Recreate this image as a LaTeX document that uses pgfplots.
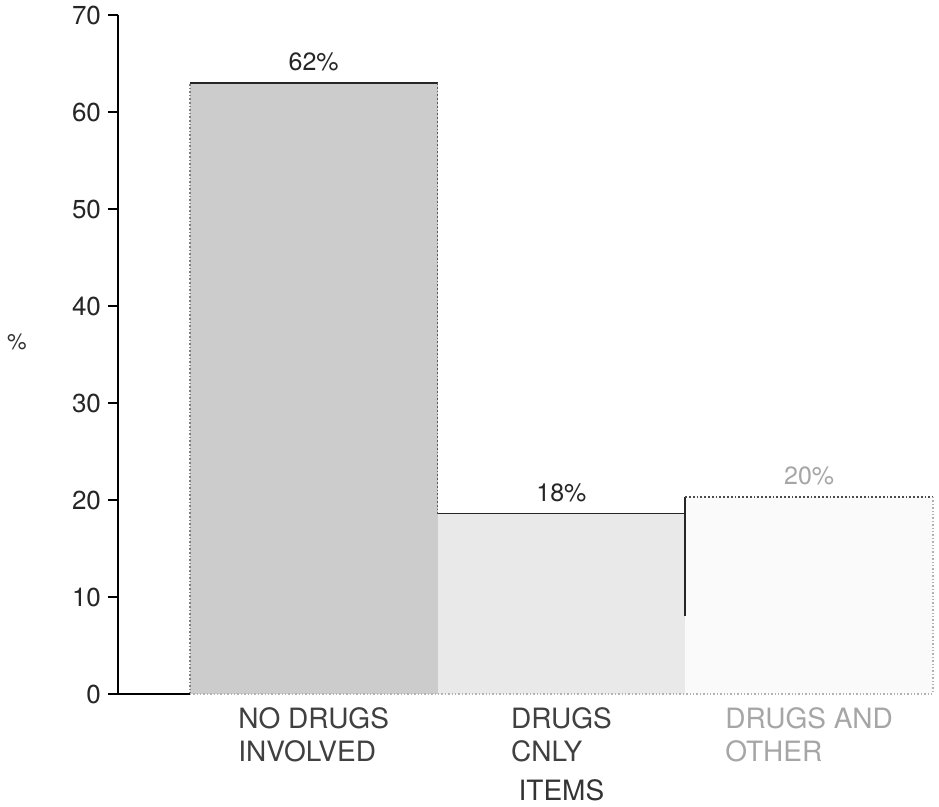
\documentclass[border=0pt]{standalone}
\usepackage{pgfplots}
\pgfplotsset{compat=1.18}
\usepackage{fontspec}
\setmainfont{TeX Gyre Heros}
\begin{document}
\begin{tikzpicture}
\begin{axis}[
  at={(0,0)}, anchor=south west,
  scale only axis, width=407.5pt, height=339.5pt,
  xmin=-0.79, xmax=2.5, ymin=0, ymax=70,
  axis x line=none,
  axis y line=left,
  axis line style={-, black, line width=0.8pt},
  ytick={0,10,...,70},
  tick align=outside, major tick length=5pt,
  tick style={black, line width=0.7pt},
  yticklabel style={font=\fontsize{13}{15}\selectfont, text=black!85},
  /pgf/number format/assume math mode=true,
  xtick=\empty,
  clip=false,
  ylabel={\%},
  ylabel style={rotate=-90, at={(rel axis cs:-0.124,0.518)}, anchor=center, font=\fontsize{11}{13}\selectfont, text=black!80},
  nodes near coords style={font=\fontsize{12.5}{14}\selectfont, anchor=south, yshift=2.5pt},
]
% bar fills
\addplot[ybar, bar width=1, bar shift=0, fill=gray!40, draw=none,
  point meta=explicit symbolic, nodes near coords,
  nodes near coords style={text=black!85}] coordinates {(0,63) [62\%]};
\addplot[ybar, bar width=1, bar shift=0, fill=gray!17, draw=none,
  point meta=explicit symbolic, nodes near coords,
  nodes near coords style={text=black!85}] coordinates {(1,18.6) [18\%]};
\addplot[ybar, bar width=1, bar shift=0, fill=gray!4, draw=none,
  point meta=explicit symbolic, nodes near coords,
  nodes near coords style={text=black!35}] coordinates {(2,20.3) [20\%]};
% bar outlines
\addplot[black!50, densely dotted, line width=0.8pt] coordinates {(-0.5,0) (-0.5,63)};
\addplot[black!85, line width=1pt] coordinates {(-0.5,63) (0.5,63)};
\addplot[black!65, densely dotted, line width=0.9pt] coordinates {(0.5,63) (0.5,18.6)};
\addplot[black!85, line width=0.9pt] coordinates {(0.5,18.6) (1.5,18.6)};
\addplot[black!85, line width=0.9pt] coordinates {(1.5,8) (1.5,20.3)};
\addplot[black!70, densely dotted, line width=0.9pt] coordinates {(1.5,20.3) (2.5,20.3)};
\addplot[black!30, densely dotted, line width=0.7pt] coordinates {(2.5,20.3) (2.5,0)};
\addplot[black!30, densely dotted, line width=0.7pt] coordinates {(-0.5,0) (2.5,0)};
% solid baseline left of first bar
\addplot[black, line width=0.8pt] coordinates {(-0.79,0) (-0.5,0)};
% category labels
\node[anchor=north, inner sep=0pt, align=left, font=\fontsize{14}{16.5}\selectfont, text=black!75] at (axis cs:0,0) [yshift=-6.5pt] {NO DRUGS\\INVOLVED};
\node[anchor=north, inner sep=0pt, align=left, font=\fontsize{14}{16.5}\selectfont, text=black!75] at (axis cs:1,0) [yshift=-6.5pt] {DRUGS\\CNLY};
\node[anchor=north, inner sep=0pt, align=left, font=\fontsize{14}{16.5}\selectfont, text=black!35] at (axis cs:2,0) [yshift=-6.5pt] {DRUGS AND\\OTHER};
\node[anchor=center, font=\fontsize{14}{16.5}\selectfont, text=black!80] at (axis cs:1,0) [yshift=-48pt] {ITEMS};
\end{axis}
\pgfresetboundingbox
\path (-59pt,-56.5pt) rectangle (410.5pt,347pt);
\end{tikzpicture}
\end{document}
